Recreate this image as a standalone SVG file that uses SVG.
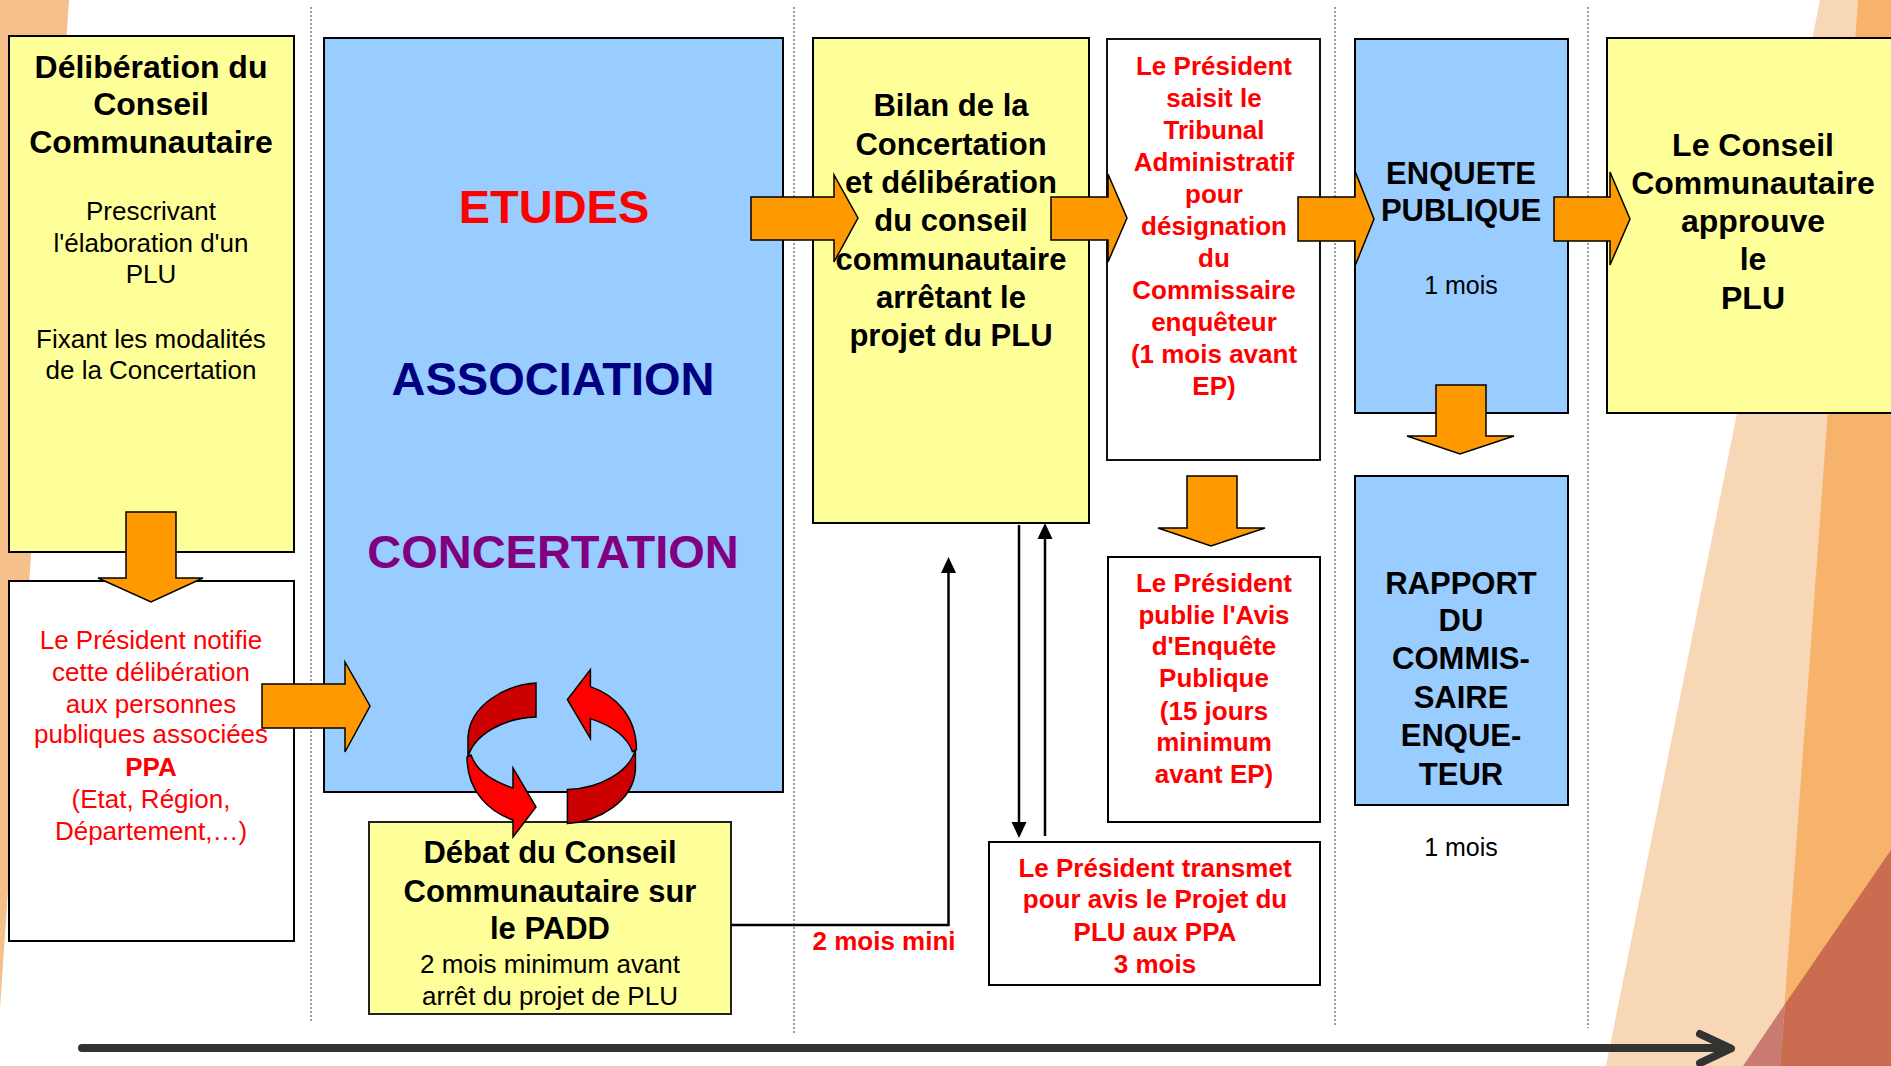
<svg xmlns="http://www.w3.org/2000/svg" width="1891" height="1066" viewBox="0 0 1891 1066">
<style>
  text { font-family: "Liberation Sans", Arial, sans-serif; text-anchor: middle; }
  .b { font-weight: bold; }
  .red { fill: #FF0000; }
  .k { fill: #000000; }
  .t32 { font-size: 32px; }
  .t31 { font-size: 31px; }
  .t26 { font-size: 26px; }
  .t25 { font-size: 25px; }
  .t47 { font-size: 47px; font-weight: bold; }
  .yellow { fill: #FFFF99; stroke: #000; stroke-width: 2; }
  .blue { fill: #99CCFF; stroke: #000; stroke-width: 2; }
  .white { fill: #FFFFFF; stroke: #000; stroke-width: 2; }
  .blk { fill: #FF9900; stroke: #000; stroke-width: 1.5; stroke-linejoin: miter; }
  .sep { stroke: #808080; stroke-width: 1.5; stroke-dasharray: 2 2; fill: none; }
  .ln { stroke: #000; stroke-width: 2.5; fill: none; }
  .dk { fill: #CC0000; stroke: #000; stroke-width: 1.5; }
  .br { fill: #FF0000; stroke: #000; stroke-width: 1.5; }
</style>
<defs>
  <marker id="ah" viewBox="0 0 10 10" refX="10" refY="5" markerWidth="6" markerHeight="6" markerUnits="strokeWidth" orient="auto">
    <path d="M0,0 L10,5 L0,10 Z" fill="#000"/>
  </marker>
</defs>

<rect x="0" y="0" width="1891" height="1066" fill="#FFFFFF"/>

<!-- background decoration -->
<g id="background">
  <polygon points="0,0 69,0 0,1008" fill="#F5C08A"/>
  <polygon points="1820,0 1891,0 1891,1066 1606,1066" fill="#F8D7B7"/>
  <polygon points="1858,0 1891,0 1891,1066 1780,1066" fill="#F7B26B"/>
  <polygon points="1891,850 1785,1004 1780,1066 1891,1066" fill="#C96C50"/>
  <polygon points="1785,1004 1743,1066 1780,1066" fill="#C97B72"/>
</g>

<!-- separators -->
<g id="separators">
  <line class="sep" x1="311" y1="7" x2="311" y2="1023"/>
  <line class="sep" x1="794" y1="7" x2="794" y2="1033"/>
  <line class="sep" x1="1335" y1="7" x2="1335" y2="1027"/>
  <line class="sep" x1="1588" y1="7" x2="1588" y2="1028"/>
</g>

<g id="n-deliberation">
  <rect class="yellow" x="9" y="36" width="285" height="516"/>
  <text class="b k t32"><tspan x="151" y="78">Délibération du</tspan><tspan x="151" y="115">Conseil</tspan><tspan x="151" y="153">Communautaire</tspan></text>
  <text class="k t26"><tspan x="151" y="220">Prescrivant</tspan><tspan x="151" y="252">l'élaboration d'un</tspan><tspan x="151" y="283">PLU</tspan><tspan x="151" y="348">Fixant les modalités</tspan><tspan x="151" y="379">de la Concertation</tspan></text>
</g>

<g id="n-notifie">
  <rect class="white" x="9" y="581" width="285" height="360"/>
  <text class="red t26"><tspan x="151" y="649">Le Président notifie</tspan><tspan x="151" y="681">cette délibération</tspan><tspan x="151" y="713">aux personnes</tspan><tspan x="151" y="743">publiques associées</tspan><tspan x="151" y="776" class="b">PPA</tspan><tspan x="151" y="808">(Etat, Région,</tspan><tspan x="151" y="840">Département,…)</tspan></text>
</g>

<g id="n-etudes">
  <rect class="blue" x="324" y="38" width="459" height="754"/>
  <text class="t47" x="554" y="223" fill="#FF0000">ETUDES</text>
  <text class="t47" x="553" y="395" fill="#000080">ASSOCIATION</text>
  <text class="t47" x="553" y="568" fill="#800080">CONCERTATION</text>
</g>

<g id="n-debat">
  <rect x="369" y="822" width="362" height="192" fill="#FFFF99" stroke="#222" stroke-width="2"/>
  <text class="b k t31"><tspan x="550" y="863">Débat du Conseil</tspan><tspan x="550" y="902">Communautaire sur</tspan><tspan x="550" y="939">le PADD</tspan></text>
  <text class="k t26"><tspan x="550" y="973">2 mois minimum avant</tspan><tspan x="550" y="1005">arrêt du projet de PLU</tspan></text>
</g>

<g id="n-bilan">
  <rect class="yellow" x="813" y="38" width="276" height="485"/>
  <text class="b k t31"><tspan x="951" y="116">Bilan de la</tspan><tspan x="951" y="155">Concertation</tspan><tspan x="951" y="193">et délibération</tspan><tspan x="951" y="231">du conseil</tspan><tspan x="951" y="270">communautaire</tspan><tspan x="951" y="308">arrêtant le</tspan><tspan x="951" y="346">projet du PLU</tspan></text>
</g>

<g id="n-saisit">
  <rect x="1107" y="39" width="213" height="421" fill="#FFFFFF" stroke="#111" stroke-width="2"/>
  <text class="b red t26"><tspan x="1214" y="75">Le Président</tspan><tspan x="1214" y="107">saisit le</tspan><tspan x="1214" y="139">Tribunal</tspan><tspan x="1214" y="171">Administratif</tspan><tspan x="1214" y="203">pour</tspan><tspan x="1214" y="235">désignation</tspan><tspan x="1214" y="267">du</tspan><tspan x="1214" y="299">Commissaire</tspan><tspan x="1214" y="331">enquêteur</tspan><tspan x="1214" y="363">(1 mois avant</tspan><tspan x="1214" y="395">EP)</tspan></text>
</g>

<g id="n-publie">
  <rect class="white" x="1108" y="557" width="212" height="265"/>
  <text class="b red t26"><tspan x="1214" y="592">Le Président</tspan><tspan x="1214" y="624">publie l'Avis</tspan><tspan x="1214" y="655">d'Enquête</tspan><tspan x="1214" y="687">Publique</tspan><tspan x="1214" y="720">(15 jours</tspan><tspan x="1214" y="751">minimum</tspan><tspan x="1214" y="783">avant EP)</tspan></text>
</g>

<g id="n-transmet">
  <rect class="white" x="989" y="842" width="331" height="143"/>
  <text class="b red t26"><tspan x="1155" y="877">Le Président transmet</tspan><tspan x="1155" y="908">pour avis le Projet du</tspan><tspan x="1155" y="941">PLU aux PPA</tspan><tspan x="1155" y="973">3 mois</tspan></text>
</g>

<g id="n-enquete">
  <rect class="blue" x="1355" y="39" width="213" height="374"/>
  <text class="b k t31"><tspan x="1461" y="184">ENQUETE</tspan><tspan x="1461" y="221">PUBLIQUE</tspan></text>
  <text class="k t25" x="1461" y="294">1 mois</text>
</g>

<g id="n-rapport">
  <rect class="blue" x="1355" y="476" width="213" height="329"/>
  <text class="b k t31"><tspan x="1461" y="594">RAPPORT</tspan><tspan x="1461" y="631">DU</tspan><tspan x="1461" y="669">COMMIS-</tspan><tspan x="1461" y="708">SAIRE</tspan><tspan x="1461" y="746">ENQUE-</tspan><tspan x="1461" y="785">TEUR</tspan></text>
  <text class="k t25" x="1461" y="856">1 mois</text>
</g>

<g id="n-approuve">
  <rect class="yellow" x="1607" y="38" width="290" height="375"/>
  <text class="b k t32"><tspan x="1753" y="156">Le Conseil</tspan><tspan x="1753" y="194">Communautaire</tspan><tspan x="1753" y="232">approuve</tspan><tspan x="1753" y="270">le</tspan><tspan x="1753" y="309">PLU</tspan></text>
</g>

<!-- connectors -->
<g id="connectors">
  <polygon class="blk" points="126,512 176,512 176,578 203,578 151,602 98,578 126,578"/>
  <polygon class="blk" points="1187,476 1237,476 1237,528 1265,528 1211,546 1158,528 1187,528"/>
  <polygon class="blk" points="1436,385 1486,385 1486,436 1514,436 1460,454 1407,436 1436,436"/>
  <polygon class="blk" points="262,684 345,684 345,662 370,706 345,752 345,728 262,728"/>
  <polygon class="blk" points="751,197 834,197 834,175 858,218 834,262 834,240 751,240"/>
  <polygon class="blk" points="1051,197 1108,197 1108,174 1127,218 1108,262 1108,240 1051,240"/>
  <polygon class="blk" points="1298,197 1355,197 1355,171 1374,219 1355,266 1355,241 1298,241"/>
  <polygon class="blk" points="1554,197 1610,197 1610,172 1630,219 1610,265 1610,241 1554,241"/>

  <polyline class="ln" points="731,925 948.5,925 948.5,572"/>
  <polygon points="948.5,557 941,573 956,573" fill="#000"/>
  <text class="b red t26" x="884" y="950">2 mois mini</text>

  <line class="ln" x1="1019" y1="525" x2="1019" y2="823"/>
  <polygon points="1019,838 1011.5,822 1026.5,822" fill="#000"/>
  <line class="ln" x1="1045" y1="836" x2="1045" y2="538"/>
  <polygon points="1045,523 1037.5,539 1052.5,539" fill="#000"/>

  <line x1="82" y1="1048" x2="1726" y2="1048" stroke="#333333" stroke-width="8" stroke-linecap="round"/>
  <polyline points="1700,1034 1731,1048.5 1700,1063" fill="none" stroke="#333333" stroke-width="8" stroke-linecap="round" stroke-linejoin="round"/>
</g>

<!-- cycle arrows -->
<g id="cycle">
  <g id="cycle-left">
    <path class="dk" d="M536,683 C505,685 470,705 468,737 L468,757 C474,735 503,718 536,717 Z"/>
    <path class="br" d="M471,755 C476,770 492,781 513,788 L513,768 L536,807 L513,837 L513,820 C490,812 467,792 467,757 Z"/>
  </g>
  <g id="cycle-right" transform="rotate(180 551.7 753.3)">
    <path class="dk" d="M536,683 C505,685 470,705 468,737 L468,757 C474,735 503,718 536,717 Z"/>
    <path class="br" d="M471,755 C476,770 492,781 513,788 L513,768 L536,807 L513,837 L513,820 C490,812 467,792 467,757 Z"/>
  </g>
</g>
</svg>
